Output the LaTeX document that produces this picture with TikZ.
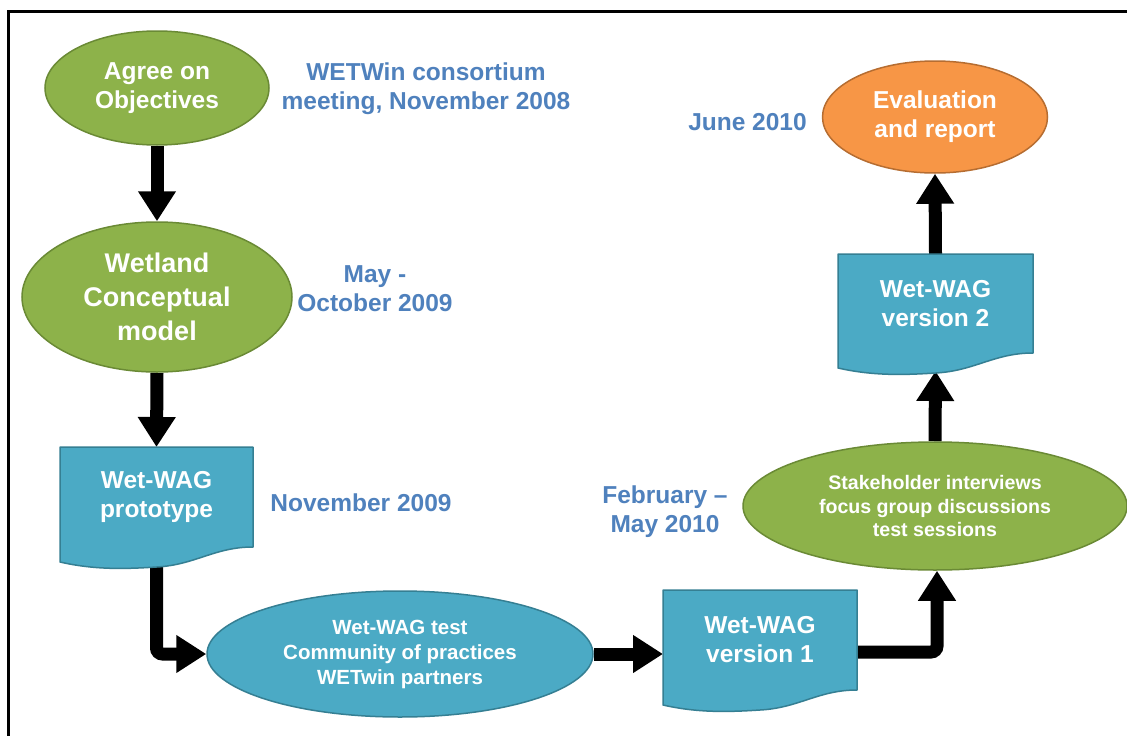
\documentclass[tikz,border=0pt]{standalone}
\usepackage{fontspec}
\setmainfont{Liberation Sans}
\usetikzlibrary{arrows.meta,shapes.geometric,calc}
\definecolor{grfill}{HTML}{8DB24A}
\definecolor{grline}{HTML}{6A8A35}
\definecolor{blfill}{HTML}{4BAAC5}
\definecolor{blline}{HTML}{357F93}
\definecolor{orfill}{HTML}{F79646}
\definecolor{orline}{HTML}{B66D31}
\definecolor{lbl}{HTML}{4F81BD}
\pgfdeclarelayer{background}
\pgfsetlayers{background,main}
\tikzset{
  ell/.style={ellipse, inner sep=0pt, line width=1.5pt, text=white, align=center,
    font=\bfseries\fontsize{24.5}{29}\selectfont},
  greenell/.style={ell, fill=grfill, draw=grline},
  blueell/.style={ell, fill=blfill, draw=blline},
  orangeell/.style={ell, fill=orfill, draw=orline},
  docnode/.style={rectangle, inner sep=0pt, outer sep=0pt, text=white, align=center,
    font=\bfseries\fontsize{24.5}{29}\selectfont},
  docsty/.style={fill=blfill, draw=blline, line width=1.5pt, line join=round},
  lab/.style={text=lbl, align=center, font=\bfseries\fontsize{24.5}{29}\selectfont},
  arr/.style={line width=13pt, -{Triangle[width=36pt,length=30pt]}},
}
\newcommand{\docshape}[1]{%
  \path[docsty] (#1.north west) -- (#1.north east) -- (#1.south east)
   .. controls ($(#1.south west)!0.8!(#1.south east)$) and ($(#1.south west)!0.7!(#1.south east)+(0,18)$) ..
   ($(#1.south west)!0.5!(#1.south east)+(0,20)$)
   .. controls ($(#1.south west)!0.34!(#1.south east)+(0,22)$) and ($(#1.south west)!0.18!(#1.south east)+(0,23)$) ..
   ($(#1.south west)+(0,15)$) -- cycle;}
\begin{document}
\begin{tikzpicture}[x=1pt,y=-1pt]
\useasboundingbox (0,0) rectangle (1127,736);
\clip (0,0) rectangle (1127,736);

% nodes
\node[greenell, minimum width=224pt, minimum height=114pt] (agree) at (157,88) {Agree on\\Objectives};
\node[greenell, minimum width=270pt, minimum height=150pt,
  font=\bfseries\fontsize{27}{34}\selectfont] (wet) at (157,297) {Wetland\\Conceptual\\model};
\node[docnode, minimum width=193pt, minimum height=100pt] (proto) at (156.5,497) {Wet-WAG\\prototype};
\node[blueell, minimum width=386pt, minimum height=126pt,
  font=\bfseries\fontsize{20.5}{25}\selectfont] (test) at (400,654) {Wet-WAG test\\Community of practices\\WETwin partners};
\node[docnode, minimum width=194pt, minimum height=100pt] (v1) at (760,640) {Wet-WAG\\version 1};
\node[greenell, minimum width=384pt, minimum height=128pt,
  font=\bfseries\fontsize{19.6}{23.5}\selectfont] (stake) at (935,506) {Stakeholder interviews\\focus group discussions\\test sessions};
\node[docnode, minimum width=195pt, minimum height=99pt] (v2) at (935.5,303.5) {Wet-WAG\\version 2};
\node[orangeell, minimum width=225pt, minimum height=112pt] (eval) at (935,117) {Evaluation\\and report};

% labels
\node[lab] (l1) at (426,88.5) {WETWin consortium\\meeting, November 2008};
\node[lab] (l2) at (747.5,122) {June 2010};
\node[lab] (l3) at (375,288.5) {May -\\October 2009};
\node[lab] (l4) at (361,503) {November 2009};
\node[lab] (l5) at (665,511.5) {February –\\May 2010};

\begin{pgfonlayer}{background}
\fill[white] (0,0) rectangle (1127,736);
\draw[line width=3.5pt] (8.5,11.5) rectangle (1200,800);
\draw[arr] (agree.south) -- (wet.north);
\draw[arr] (wet.south) -- (proto.north);
\draw[arr, rounded corners=6pt] (proto.south) |- (test.west);
\draw[arr] (test.east) -- (test.east -| v1.west);
\draw[arr, rounded corners=6pt] ($(v1.east)+(0,12)$) -| ($(stake.south)+(2,0)$);
\draw[arr] (stake.north) -- ($(v2.south)+(0,18)$);
\draw[arr] (v2.north) -- (eval.south);
\docshape{proto}
\docshape{v1}
\docshape{v2}
\end{pgfonlayer}
\end{tikzpicture}
\end{document}
